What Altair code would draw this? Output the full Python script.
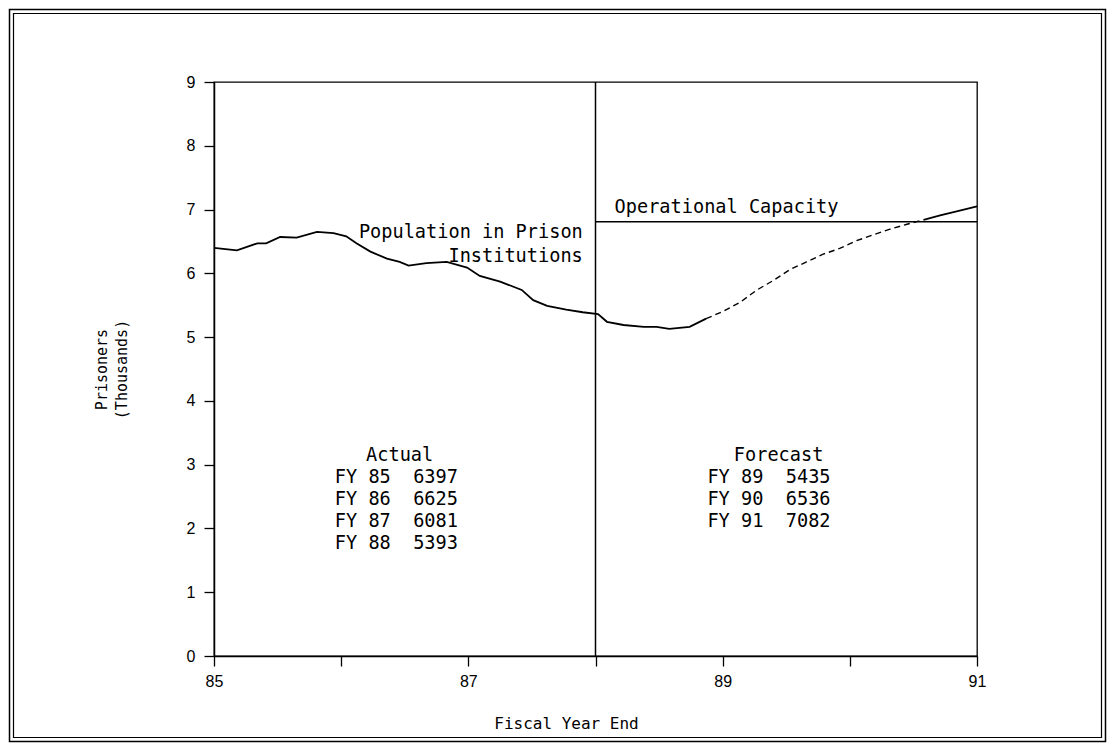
import altair as alt
import pandas as pd

# ---- data ----
years = [85.00, 85.18, 85.34, 85.41, 85.52, 85.65, 85.81, 85.94, 86.04, 86.12,
         86.23, 86.36, 86.46, 86.53, 86.67, 86.83, 86.99, 87.09, 87.25, 87.42,
         87.51, 87.62, 87.77, 87.90, 88.02, 88.09, 88.22, 88.38, 88.48, 88.58,
         88.74, 88.87, 89.00, 89.14, 89.27, 89.40, 89.53, 89.66, 89.79, 89.92,
         90.05, 90.18, 90.31, 90.45, 90.58, 90.71, 90.84, 91.00]
population = [6.40, 6.36, 6.47, 6.47, 6.57, 6.56, 6.65, 6.63, 6.58, 6.47,
              6.34, 6.23, 6.18, 6.12, 6.16, 6.18, 6.09, 5.96, 5.87, 5.74,
              5.58, 5.49, 5.43, 5.39, 5.36, 5.24, 5.19, 5.16, 5.16, 5.13,
              5.16, 5.29, 5.40, 5.55, 5.74, 5.89, 6.06, 6.18, 6.30, 6.39,
              6.51, 6.60, 6.69, 6.77, 6.84, 6.91, 6.97, 7.05]

capacity_start, capacity_end, capacity_value = 88.0, 91.0, 6.81
divider_year = 88.0

NB = "\u00a0"
actual_lines = ["Actual", f"FY 85{NB}{NB}6397", f"FY 86{NB}{NB}6625",
                f"FY 87{NB}{NB}6081", f"FY 88{NB}{NB}5393"]
forecast_lines = ["Forecast", f"FY 89{NB}{NB}5435", f"FY 90{NB}{NB}6536",
                  f"FY 91{NB}{NB}7082"]

x_ticks = [85, 86, 87, 88, 89, 90, 91]
y_ticks = [0, 1, 2, 3, 4, 5, 6, 7, 8, 9]

# annotation anchor positions (data units)
label_pop = ["Population in Prison", "Institutions"]
label_pop_x = [87.90, 87.90]
label_pop_y = [6.65, 6.27]
label_cap = "Operational Capacity"
label_cap_x, label_cap_y = 88.15, 7.04

block_step = 0.345
actual_title_x, actual_rows_x, actual_top = 86.46, 85.95, 3.15
forecast_title_x, forecast_rows_x, forecast_top = 89.44, 88.88, 3.15

W, H = 763, 574
PAD_L, PAD_T, PAD_R, PAD_B = 206, 74, 130, 87
MONO = "DejaVu Sans Mono"
SANS = "Liberation Sans"

# ---- tables ----
df = pd.DataFrame({"year": years, "pop": population})
seg1 = df[df.year <= 88.87]
seg2 = df[(df.year >= 88.87) & (df.year <= 90.58)]
seg3 = df[df.year >= 90.58]

xscale = alt.Scale(domain=[85, 91], nice=False, zero=False)
yscale = alt.Scale(domain=[0, 9], nice=False, zero=True)

xaxis = alt.Axis(values=x_ticks, format="d",
                 labelExpr="datum.value % 2 == 1 ? datum.label : ''",
                 labelFlush=False,
                 tickSize=10, labelPadding=7, grid=False,
                 title="Fiscal Year End", titleX=352, titleY=67,
                 titleAlign="center", titleBaseline="middle",
                 titleFont=MONO, titleFontSize=16, titleFontWeight="normal",
                 labelFont=SANS, labelFontSize=16)
yaxis = alt.Axis(values=y_ticks, format="d", tickSize=10, labelPadding=9, grid=False,
                 labelFlush=False,
                 title=["Prisoners", "(Thousands)"], titleAngle=270,
                 titleX=-113, titleY=287, titleAlign="center", titleBaseline="middle",
                 titleFont=MONO, titleFontSize=15, titleFontWeight="normal",
                 titleLineHeight=20,
                 labelFont=SANS, labelFontSize=16)

base_x = alt.X("year:Q", scale=xscale, axis=xaxis)
base_y = alt.Y("pop:Q", scale=yscale, axis=yaxis)

line1 = alt.Chart(seg1).mark_line(color="black", strokeWidth=1.8).encode(x=base_x, y=base_y)
line2 = alt.Chart(seg2).mark_line(color="black", strokeWidth=1.4, strokeDash=[6, 4]).encode(
    x=alt.X("year:Q", scale=xscale), y=alt.Y("pop:Q", scale=yscale))
line3 = alt.Chart(seg3).mark_line(color="black", strokeWidth=1.8).encode(
    x=alt.X("year:Q", scale=xscale), y=alt.Y("pop:Q", scale=yscale))

div_df = pd.DataFrame({"x": [divider_year], "y": [0], "y2": [9]})
divider = alt.Chart(div_df).mark_rule(color="black", strokeWidth=1.5).encode(
    x=alt.X("x:Q", scale=xscale), y=alt.Y("y:Q", scale=yscale), y2="y2:Q")

cap_df = pd.DataFrame({"x": [capacity_start], "x2": [capacity_end], "y": [capacity_value]})
cap = alt.Chart(cap_df).mark_rule(color="black", strokeWidth=1.5).encode(
    x=alt.X("x:Q", scale=xscale), x2="x2:Q", y=alt.Y("y:Q", scale=yscale))

txt_common = dict(font=MONO, fontSize=18.6, color="black", baseline="middle")

pop_df = pd.DataFrame({"x": label_pop_x, "y": label_pop_y, "t": label_pop})
pop_txt = alt.Chart(pop_df).mark_text(align="right", **txt_common).encode(
    x=alt.X("x:Q", scale=xscale), y=alt.Y("y:Q", scale=yscale), text="t:N")

capt_df = pd.DataFrame({"x": [label_cap_x], "y": [label_cap_y], "t": [label_cap]})
cap_txt = alt.Chart(capt_df).mark_text(align="left", **txt_common).encode(
    x=alt.X("x:Q", scale=xscale), y=alt.Y("y:Q", scale=yscale), text="t:N")

def block(lines, title_x, rows_x, top):
    rows = []
    for i, t in enumerate(lines):
        rows.append({"x": title_x if i == 0 else rows_x,
                     "y": top - i * block_step, "t": t,
                     "a": "center" if i == 0 else "left"})
    return pd.DataFrame(rows)

blk = pd.concat([block(actual_lines, actual_title_x, actual_rows_x, actual_top),
                 block(forecast_lines, forecast_title_x, forecast_rows_x, forecast_top)])
blk_title = alt.Chart(blk[blk.a == "center"]).mark_text(align="center", **txt_common).encode(
    x=alt.X("x:Q", scale=xscale), y=alt.Y("y:Q", scale=yscale), text="t:N")
blk_rows = alt.Chart(blk[blk.a == "left"]).mark_text(align="left", **txt_common).encode(
    x=alt.X("x:Q", scale=xscale), y=alt.Y("y:Q", scale=yscale), text="t:N")

# outer double frame around the whole figure
frame_df = pd.DataFrame({"k": [0]})
outer = alt.Chart(frame_df).mark_rect(filled=False, stroke="black", strokeWidth=1.5).encode(
    x=alt.value(-PAD_L + 1.5), x2=alt.value(W + PAD_R - 1.5),
    y=alt.value(-PAD_T + 1.5), y2=alt.value(H + PAD_B - 1.5))
inner = alt.Chart(frame_df).mark_rect(filled=False, stroke="black", strokeWidth=1.2).encode(
    x=alt.value(-PAD_L + 5.5), x2=alt.value(W + PAD_R - 5.5),
    y=alt.value(-PAD_T + 5.5), y2=alt.value(H + PAD_B - 5.5))

chart = alt.layer(line1, line2, line3, divider, cap, pop_txt, cap_txt,
                  blk_title, blk_rows, outer, inner).properties(
    width=W, height=H,
    autosize=alt.AutoSizeParams(type="none"),
    padding={"left": PAD_L, "top": PAD_T, "right": PAD_R, "bottom": PAD_B},
    background="white",
).configure_view(stroke="black", strokeWidth=1.3).configure_axis(
    domainColor="black", tickColor="black", labelColor="black", titleColor="black",
    domainWidth=1.5, tickWidth=1.3)

chart.save("out.html", embed_options={"renderer": "svg", "actions": False})
